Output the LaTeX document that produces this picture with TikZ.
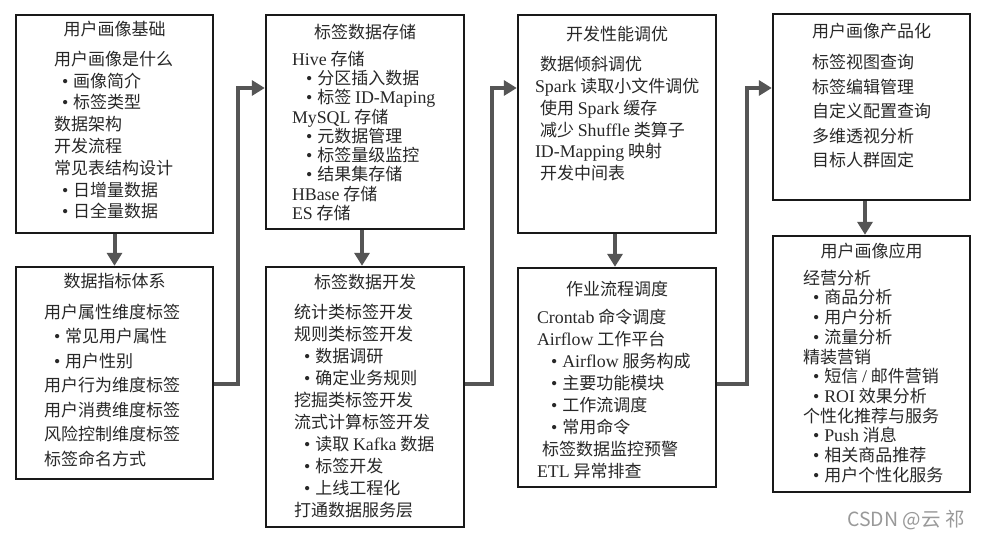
\documentclass[tikz,border=0pt]{standalone}
\usepackage{fontspec}
\setmainfont{Noto Sans CJK SC}
\newfontfamily\latin[Scale=1.05]{Liberation Serif}
\usetikzlibrary{arrows.meta}
\definecolor{linegray}{RGB}{85,85,85}
\definecolor{textgray}{RGB}{40,40,40}
\newcommand{\en}[1]{{\latin #1}}
\newcommand{\bul}[1]{\hspace*{#1pt}{\latin •}\hspace{5pt}}
% rows keep the given baseline distance
\newcommand{\lines}[2]{\fontsize{17}{#1}\selectfont
  \setbox\strutbox\hbox{\vrule height 0.8\baselineskip depth 0.2\baselineskip width 0pt}%
  \begin{tabular}[t]{@{}l@{}}#2\end{tabular}}
\tikzset{
  box/.style={draw=black!90, line width=2.4pt, fill=white, inner sep=0pt},
  boxtitle/.style={anchor=base, inner sep=0pt, text=textgray, font=\fontsize{17}{20}\selectfont},
  body/.style={anchor=base west, inner sep=0pt, text=textgray},
  conn/.style={draw=linegray, line width=4pt, -{Triangle[length=13pt,width=15pt]}},
  wmark/.style={text=black!40, inner sep=0pt, font=\fontsize{19.5}{22}\selectfont}
}
\begin{document}
\begin{tikzpicture}[x=1pt,y=-1pt]
\useasboundingbox[fill=white] (0,0) rectangle (985,537);
% boxes
\node[box, minimum width=197, minimum height=218] (jichu) at (114.5,124) {};
\node[box, minimum width=197, minimum height=212] (zhibiao) at (114.5,373) {};
\node[box, minimum width=198, minimum height=214] (cunchu) at (365,122) {};
\node[box, minimum width=198, minimum height=260] (kaifa) at (365,397) {};
\node[box, minimum width=198, minimum height=218] (tiaoyou) at (617,124) {};
\node[box, minimum width=198, minimum height=219] (diaodu) at (617,377.5) {};
\node[box, minimum width=197, minimum height=186] (chanpin) at (871.5,107) {};
\node[box, minimum width=197, minimum height=256] (yingyong) at (871.5,364) {};
% titles
\node[boxtitle] (jichu-t) at ([yshift=-21.5pt]jichu.north) {用户画像基础};
\node[boxtitle] (zhibiao-t) at ([yshift=-21.5pt]zhibiao.north) {数据指标体系};
\node[boxtitle] (cunchu-t) at ([yshift=-24.5pt]cunchu.north) {标签数据存储};
\node[boxtitle] (kaifa-t) at ([yshift=-22.5pt]kaifa.north) {标签数据开发};
\node[boxtitle] (tiaoyou-t) at ([yshift=-26.5pt]tiaoyou.north) {开发性能调优};
\node[boxtitle] (diaodu-t) at ([yshift=-28.5pt]diaodu.north) {作业流程调度};
\node[boxtitle] (chanpin-t) at ([yshift=-24.5pt]chanpin.north) {用户画像产品化};
\node[boxtitle] (yingyong-t) at ([yshift=-22.5pt]yingyong.north) {用户画像应用};
% contents
\node[body] (jichu-b) at ([xshift=39pt,yshift=-51.5pt]jichu.north west) {\lines{21.8}{
用户画像是什么\\
\bul{8}画像简介\\
\bul{8}标签类型\\
数据架构\\
开发流程\\
常见表结构设计\\
\bul{8}日增量数据\\
\bul{8}日全量数据}};
\node[body] (zhibiao-b) at ([xshift=29pt,yshift=-52.5pt]zhibiao.north west) {\lines{24.5}{
用户属性维度标签\\
\bul{10}常见用户属性\\
\bul{10}用户性别\\
用户行为维度标签\\
用户消费维度标签\\
风险控制维度标签\\
标签命名方式}};
\node[body] (cunchu-b) at ([xshift=27pt,yshift=-51.5pt]cunchu.north west) {\lines{19.25}{
\en{Hive} 存储\\
\bul{14}分区插入数据\\
\bul{14}标签 \en{ID-Maping}\\
\en{MySQL} 存储\\
\bul{14}元数据管理\\
\bul{14}标签量级监控\\
\bul{14}结果集存储\\
\en{HBase} 存储\\
\en{ES} 存储}};
\node[body] (kaifa-b) at ([xshift=29pt,yshift=-53pt]kaifa.north west) {\lines{22}{
统计类标签开发\\
规则类标签开发\\
\bul{10}数据调研\\
\bul{10}确定业务规则\\
挖掘类标签开发\\
流式计算标签开发\\
\bul{10}读取 \en{Kafka} 数据\\
\bul{10}标签开发\\
\bul{10}上线工程化\\
打通数据服务层}};
\node[body] (tiaoyou-b) at ([xshift=18pt,yshift=-57pt]tiaoyou.north west) {\lines{21.8}{
\hspace*{5pt}数据倾斜调优\\
\en{Spark} 读取小文件调优\\
\hspace*{5pt}使用 \en{Spark} 缓存\\
\hspace*{5pt}减少 \en{Shuffle} 类算子\\
\en{ID-Mapping} 映射\\
\hspace*{5pt}开发中间表}};
\node[body] (diaodu-b) at ([xshift=20pt,yshift=-57pt]diaodu.north west) {\lines{22}{
\en{Crontab} 命令调度\\
\en{Airflow} 工作平台\\
\bul{14}\en{Airflow} 服务构成\\
\bul{14}主要功能模块\\
\bul{14}工作流调度\\
\bul{14}常用命令\\
\hspace*{5pt}标签数据监控预警\\
\en{ETL} 异常排查}};
\node[body] (chanpin-b) at ([xshift=40pt,yshift=-56pt]chanpin.north west) {\lines{24.5}{
标签视图查询\\
标签编辑管理\\
自定义配置查询\\
多维透视分析\\
目标人群固定}};
\node[body] (yingyong-b) at ([xshift=31pt,yshift=-49.5pt]yingyong.north west) {\lines{19.7}{
经营分析\\
\bul{10}商品分析\\
\bul{10}用户分析\\
\bul{10}流量分析\\
精装营销\\
\bul{10}短信 \en{/} 邮件营销\\
\bul{10}\en{ROI} 效果分析\\
个性化推荐与服务\\
\bul{10}\en{Push} 消息\\
\bul{10}相关商品推荐\\
\bul{10}用户个性化服务}};
% arrows
\draw[conn] (jichu.south) -- (zhibiao.north);
\draw[conn] ([xshift=-3pt]cunchu.south) -- ([xshift=-3pt]kaifa.north);
\draw[conn] ([xshift=-2pt]tiaoyou.south) -- ([xshift=-2pt]diaodu.north);
\draw[conn] ([xshift=-6.5pt]chanpin.south) -- ([xshift=-6.5pt]yingyong.north);
\draw[conn] ([yshift=-11pt]zhibiao.east) -- ++(24,0) |- ([yshift=34pt]cunchu.west);
\draw[conn] ([yshift=13pt]kaifa.east) -- ++(27,0) |- ([yshift=36pt]tiaoyou.west);
\draw[conn] ([yshift=-6.5pt]diaodu.east) -- ++(30,0) |- ([yshift=19pt]chanpin.west);
\node[wmark] (csdn) at (906,520) {CSDN @云 祁};
\end{tikzpicture}
\end{document}
